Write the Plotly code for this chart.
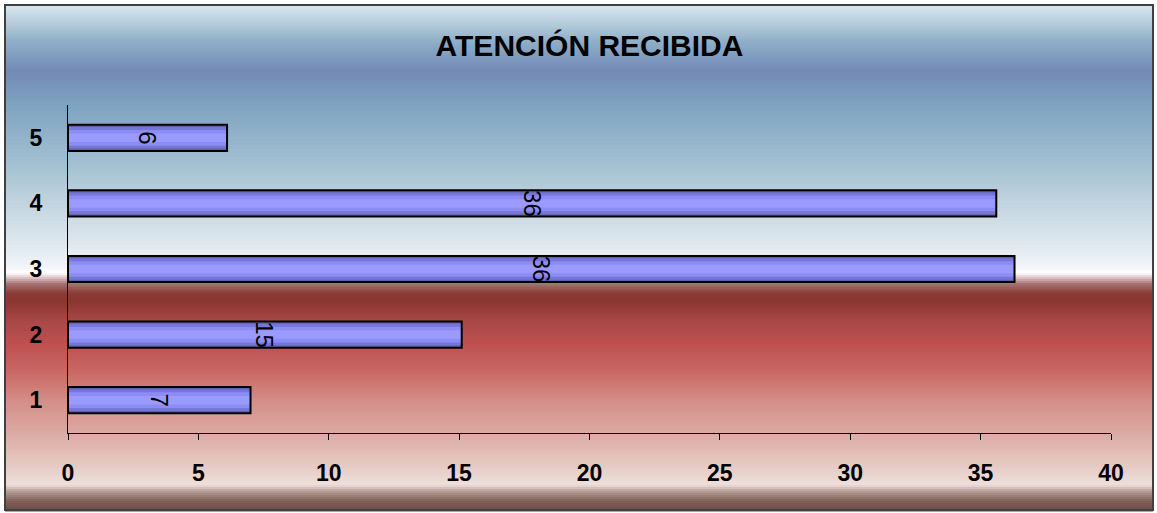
import plotly.graph_objects as go

# Survey results: "ATENCIÓN RECIBIDA"
categories = ["1", "2", "3", "4", "5"]
values = [7.0, 15.1, 36.3, 35.6, 6.1]
x_ticks = [0, 5, 10, 15, 20, 25, 30, 35, 40]

W, H = 1157, 513
L, R, T, B = 68, 46, 105, 80
PW, PH = W - L - R, H - T - B


def px_x(px):
    return (px - L) / PW


def px_y(py):
    return (H - B - py) / PH


def hex_rgb(h):
    h = h.lstrip("#")
    return tuple(int(h[i:i + 2], 16) for i in (0, 2, 4))


def mix(c1, c2, t):
    a, b = hex_rgb(c1), hex_rgb(c2)
    return "rgb({},{},{})".format(*[round(a[i] + (b[i] - a[i]) * t) for i in range(3)])


# vertical background gradient (pixel row, colour)
stops = [
    (5, "#D8E6F0"), (25, "#B0C8D8"), (40, "#90AFC8"), (55, "#809DC0"),
    (70, "#7489B5"), (85, "#7896BB"), (100, "#7CA0BE"), (130, "#8EB0C8"),
    (170, "#A8C4D4"), (210, "#C8D8E2"), (250, "#E4ECF2"), (266, "#F2F5F8"),
    (272, "#FFFFFF"), (276, "#E4CCCC"), (283, "#A47272"), (292, "#8C3C37"),
    (300, "#8A3530"), (320, "#A84848"), (343, "#BE5050"), (370, "#C86864"),
    (400, "#D48E88"), (430, "#DCA8A2"), (470, "#E8D0CA"), (484, "#EEDFDA"),
    (490, "#B8A098"), (500, "#806058"), (510, "#6A4A44"),
]

shapes = []
step = 2
y = stops[0][0]
while y < stops[-1][0]:
    for i in range(len(stops) - 1):
        y0, c0 = stops[i]
        y1, c1 = stops[i + 1]
        if y0 <= y < y1:
            col = mix(c0, c1, (y - y0) / (y1 - y0))
            break
    shapes.append(dict(
        type="rect", xref="paper", yref="paper", layer="below",
        x0=px_x(5), x1=px_x(1153), y0=px_y(y + step + 0.5), y1=px_y(y),
        fillcolor=col, line=dict(width=0),
    ))
    y += step

# outer frame
shapes.append(dict(
    type="rect", xref="paper", yref="paper", layer="above",
    x0=px_x(5), x1=px_x(1153), y0=px_y(510), y1=px_y(5),
    line=dict(color="#404040", width=2), fillcolor="rgba(0,0,0,0)",
))

fig = go.Figure()

# bar body built from stacked layers to give a rounded shading
layers = [(0.40, "#6060B0"), (0.33, "#7676D6"), (0.24, "#8C8CF6"), (0.13, "#9A9AFF")]
for w, col in layers:
    fig.add_trace(go.Bar(
        y=categories, x=values, orientation="h", width=w,
        marker=dict(color=col, line=dict(width=0)),
        hoverinfo="skip", showlegend=False,
    ))

# outline and value labels
fig.add_trace(go.Bar(
    y=categories, x=values, orientation="h", width=0.40,
    marker=dict(color="rgba(0,0,0,0)", line=dict(color="black", width=2)),
    texttemplate="%{x:.0f}", textposition="inside", insidetextanchor="middle",
    textangle=90, constraintext="none",
    textfont=dict(family="Arial, Liberation Sans", size=24, color="black"),
    showlegend=False,
))

fig.update_layout(
    width=W, height=H,
    margin=dict(l=L, r=R, t=T, b=B),
    paper_bgcolor="white",
    plot_bgcolor="rgba(0,0,0,0)",
    barmode="overlay",
    shapes=shapes,
    title=dict(
        text="<b>ATENCIÓN RECIBIDA</b>",
        font=dict(family="Arial, Liberation Sans", size=30, color="black"),
        x=0.5, xref="paper", xanchor="center",
        y=1 - 45 / H, yref="container", yanchor="middle",
    ),
    xaxis=dict(
        range=[0, 40], tickvals=x_ticks, showgrid=False, zeroline=False,
        showline=True, linecolor="black", linewidth=1,
        ticks="outside", ticklen=6, tickcolor="black", tickwidth=1,
        ticklabelstandoff=13,
        tickfont=dict(family="Arial, Liberation Sans", size=23, color="black", weight="bold"),
    ),
    yaxis=dict(
        range=[-0.5, 4.5], showgrid=False, zeroline=False,
        showline=True, linecolor="black", linewidth=1,
        ticks="", ticklabelstandoff=20,
        tickfont=dict(family="Arial, Liberation Sans", size=23, color="black", weight="bold"),
    ),
)

fig.write_html("out.html")
